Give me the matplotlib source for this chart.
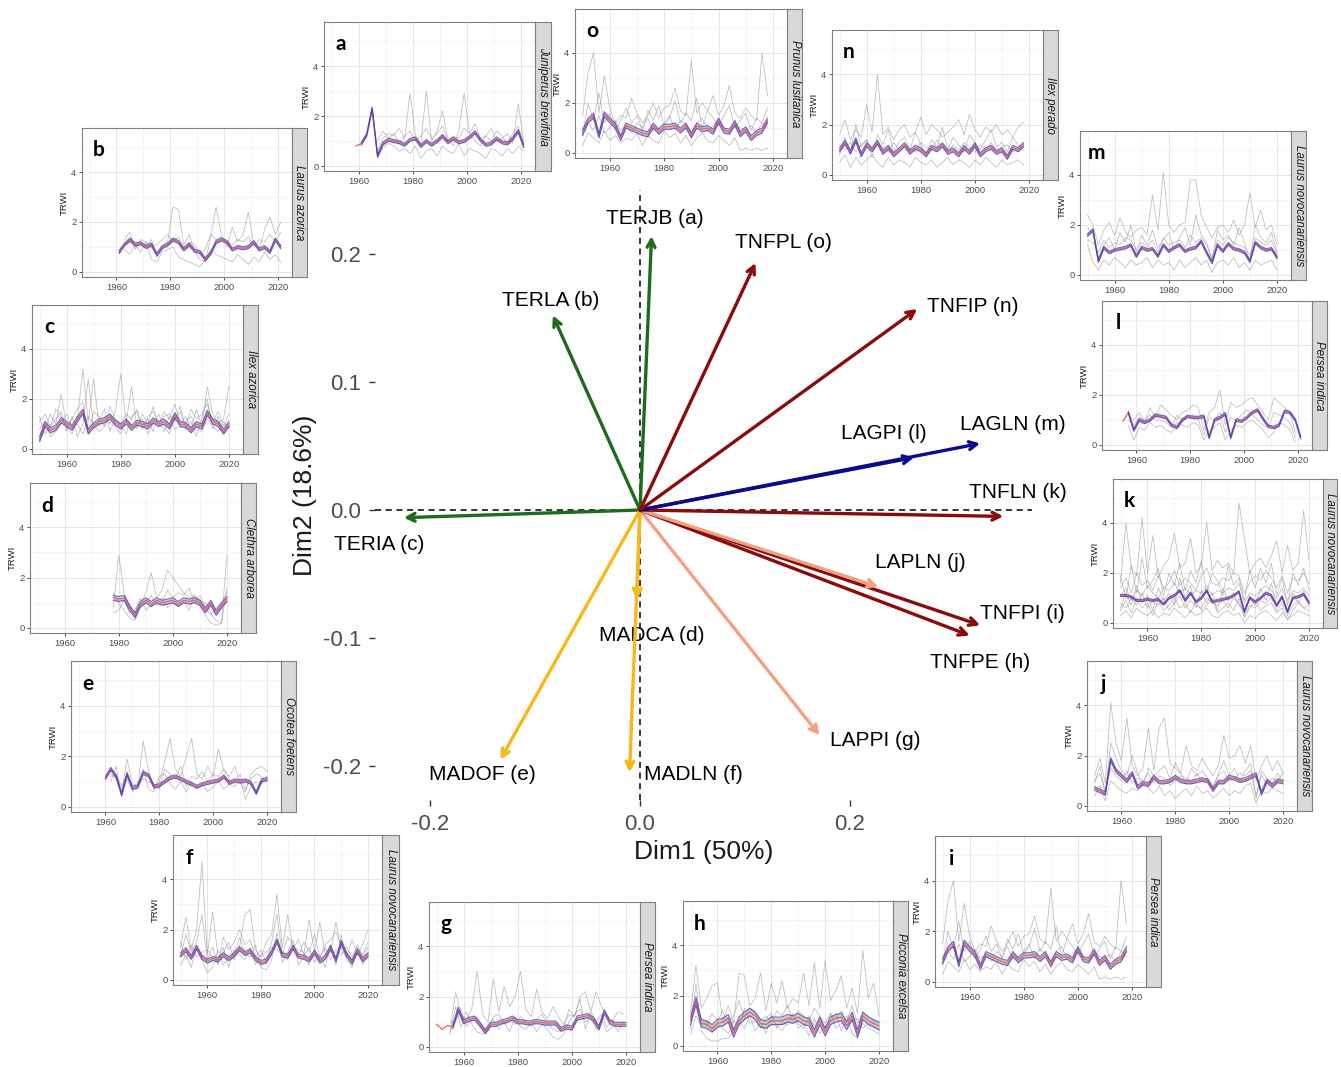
import numpy as np
import matplotlib
matplotlib.use('Agg')
import matplotlib.pyplot as plt

plt.rcParams['font.family'] = ['Liberation Sans', 'DejaVu Sans']

# ---- PCA loadings (central biplot) ----
codes = ['TERJB (a)', 'TERLA (b)', 'TERIA (c)', 'MADCA (d)', 'MADOF (e)',
         'MADLN (f)', 'LAPPI (g)', 'TNFPE (h)', 'TNFPI (i)', 'LAPLN (j)',
         'TNFLN (k)', 'LAGPI (l)', 'LAGLN (m)', 'TNFIP (n)', 'TNFPL (o)']
dim1 = [0.011, -0.083, -0.225, -0.003, -0.133, -0.010, 0.171, 0.314,
        0.324, 0.227, 0.346, 0.261, 0.324, 0.264, 0.110]
dim2 = [0.214, 0.152, -0.006, -0.070, -0.195, -0.205, -0.176, -0.098,
        -0.090, -0.060, -0.005, 0.041, 0.052, 0.157, 0.193]
site = ['TER', 'TER', 'TER', 'MAD', 'MAD', 'MAD', 'LAP', 'TNF', 'TNF',
        'LAP', 'TNF', 'LAG', 'LAG', 'TNF', 'TNF']

# ---- chronologies (values every 2 years from the start year) ----
letters = ['a', 'b', 'c', 'd', 'e', 'f', 'g', 'h', 'i', 'j', 'k', 'l', 'm', 'n', 'o']
species = ['Juniperus brevifolia', 'Laurus azorica', 'Ilex azorica', 'Clethra arborea',
           'Ocotea foetens', 'Laurus novocanariensis', 'Persea indica', 'Picconia excelsa',
           'Persea indica', 'Laurus novocanariensis', 'Laurus novocanariensis',
           'Persea indica', 'Laurus novocanariensis', 'Ilex perado', 'Prunus lusitanica']
mean_start = [1959, 1961, 1950, 1978, 1960, 1950, 1950, 1950, 1950, 1950, 1950, 1955, 1950, 1950, 1950]
band_start = [1961, 1961, 1950, 1978, 1960, 1950, 1955, 1950, 1950, 1950, 1950, 1957, 1950, 1950, 1950]
gray_start = [1967, 1963, 1950, 1978, 1962, 1950, 1955, 1950, 1950, 1950, 1950, 1957, 1950, 1950, 1950]
ci_half = [0.06, 0.06, 0.1, 0.1, 0.06, 0.08, 0.08, 0.15, 0.1, 0.07, 0.04, 0.05, 0.05, 0.08, 0.1]

mean_a = [0.8, 0.9, 1.25, 2.3, 0.4, 0.9, 1.05, 1.0, 0.95, 0.85, 1.05, 1.1, 0.8, 1.0, 0.85, 1.0,
          1.2, 0.95, 1.1, 0.95, 1.0, 1.15, 1.35, 1.05, 0.85, 0.9, 1.1, 0.95, 0.9, 1.1, 1.4, 0.8]
gray_a = [[0.6, 1.1, 1.3, 1.2, 1.5, 1.1, 2.9, 1.2, 0.9, 3.0, 1.0, 1.4, 2.2, 1.1, 0.8, 1.4, 2.9, 1.3,
           1.0, 0.8, 1.2, 1.5, 1.0, 1.1, 1.3, 0.9, 2.5, 1.0],
          [0.4, 0.7, 0.9, 0.8, 0.6, 0.7, 0.5, 0.8, 0.3, 0.6, 0.7, 0.4, 0.8, 0.6, 0.5, 0.9, 0.4, 0.7,
           0.6, 0.5, 0.3, 0.7, 0.6, 0.4, 0.7, 0.5, 0.8, 0.6],
          [1.0, 1.4, 1.1, 1.3, 0.9, 1.2, 1.4, 1.0, 1.2, 1.5, 1.1, 1.3, 1.6, 1.0, 1.2, 1.1, 1.5, 1.3,
           1.7, 1.1, 1.2, 1.0, 1.4, 1.2, 0.9, 1.3, 1.6, 0.9]]

mean_b = [0.8, 1.1, 1.3, 1.1, 1.15, 1.0, 1.1, 0.7, 1.0, 1.1, 1.3, 1.2, 0.9, 1.1, 0.85, 0.8,
          0.5, 0.75, 1.2, 1.3, 1.2, 0.9, 1.0, 0.95, 1.0, 1.2, 0.9, 1.0, 0.8, 1.3, 1.0]
gray_b = [[1.3, 1.6, 0.9, 1.2, 1.0, 1.3, 0.6, 0.9, 1.2, 2.6, 2.5, 1.1, 1.5, 0.8, 0.5, 0.4, 1.4, 2.6,
           1.5, 1.0, 1.8, 1.2, 1.5, 2.4, 1.1, 0.9, 1.7, 2.2, 1.5, 2.0],
          [0.9, 0.7, 1.1, 0.8, 1.2, 0.5, 0.4, 0.8, 0.9, 1.0, 0.6, 0.5, 0.4, 0.3, 0.2, 0.5, 0.9, 0.7,
           0.6, 0.5, 0.4, 0.7, 0.5, 0.3, 0.6, 0.4, 0.8, 0.5, 0.7, 0.4],
          [1.1, 1.2, 1.0, 1.3, 1.2, 1.0, 1.1, 1.3, 1.5, 1.2, 1.4, 1.0, 1.2, 1.1, 0.7, 0.9, 1.5, 1.3,
           1.4, 1.2, 1.1, 1.3, 1.2, 1.4, 1.0, 1.3, 1.2, 1.5, 1.2, 1.6]]

mean_c = [0.4, 1.0, 0.75, 0.85, 1.15, 1.0, 0.85, 1.2, 1.5, 0.7, 0.95, 1.1, 1.15, 1.3, 1.05, 0.9,
          1.1, 0.85, 1.05, 1.0, 0.9, 1.15, 1.0, 1.1, 0.9, 1.35, 1.0, 0.95, 0.75, 1.0, 0.9, 1.45,
          1.1, 1.0, 0.7, 1.0]
gray_c = [[0.3, 0.8, 1.4, 1.0, 2.2, 0.9, 0.6, 1.2, 3.2, 1.1, 2.8, 0.9, 1.3, 1.0, 1.5, 3.0, 1.1, 2.5,
           0.8, 1.4, 1.0, 1.7, 0.9, 1.5, 1.2, 1.8, 1.0, 1.3, 0.8, 1.6, 0.9, 2.5, 1.4, 1.0, 1.2, 2.5],
          [1.3, 0.6, 0.9, 1.2, 1.5, 0.7, 1.3, 0.5, 1.0, 2.8, 0.8, 1.1, 1.6, 0.7, 1.2, 1.0, 0.6, 1.3,
           1.5, 0.8, 1.2, 0.7, 1.4, 0.9, 0.6, 1.2, 1.7, 0.8, 1.1, 0.5, 1.3, 2.0, 0.8, 1.3, 0.6, 0.9],
          [0.8, 1.1, 0.5, 0.7, 1.0, 1.4, 0.9, 1.0, 0.6, 1.3, 1.0, 0.7, 0.9, 1.4, 0.9, 0.6, 1.2, 0.9,
           1.0, 1.2, 0.6, 1.0, 1.1, 0.7, 1.3, 0.8, 0.9, 1.1, 1.3, 0.9, 0.7, 1.2, 0.9, 0.7, 1.1, 0.8],
          [1.1, 1.4, 0.9, 1.6, 1.3, 0.8, 1.2, 1.6, 1.9, 0.6, 1.5, 1.3, 0.9, 1.7, 1.2, 1.0, 1.4, 1.2,
           1.6, 0.8, 1.3, 1.5, 1.0, 1.3, 1.4, 1.1, 1.5, 0.9, 1.6, 1.2, 1.4, 1.8, 1.1, 1.5, 0.9, 1.4]]

mean_d = [1.2, 1.15, 1.2, 0.8, 0.5, 0.95, 1.1, 0.95, 1.1, 1.0, 1.05, 1.1, 0.95, 1.1, 1.05, 1.1,
          1.0, 0.7, 1.0, 0.6, 0.9, 1.15]
gray_d = [[0.8, 2.9, 1.4, 0.9, 0.5, 0.9, 1.4, 2.2, 1.2, 1.5, 2.3, 2.0, 1.7, 1.4, 1.2, 1.3, 1.1, 1.0,
           0.6, 0.3, 0.2, 2.9],
          [1.4, 1.0, 0.7, 0.4, 0.3, 0.8, 1.0, 1.3, 0.9, 1.0, 1.5, 1.2, 1.4, 1.3, 1.6, 1.0, 1.3, 0.8,
           0.5, 0.8, 1.0, 1.4],
          [0.6, 0.7, 1.1, 0.6, 0.7, 1.2, 0.7, 0.9, 1.0, 1.2, 0.8, 1.0, 0.9, 1.1, 0.7, 1.3, 0.9, 0.5,
           0.2, 0.1, 0.2, 1.6]]

mean_e = [1.15, 1.5, 1.2, 0.5, 1.3, 0.75, 0.8, 1.35, 1.25, 0.8, 0.85, 1.0, 1.15, 1.2, 1.1, 1.0,
          0.9, 0.8, 0.9, 0.95, 1.0, 1.05, 1.2, 0.95, 1.05, 1.0, 1.05, 0.95, 0.55, 1.05, 1.1]
gray_e = [[1.3, 1.1, 0.6, 1.9, 0.9, 0.8, 2.6, 1.4, 0.8, 1.0, 1.8, 2.7, 1.5, 1.2, 2.0, 2.7, 1.3, 1.1,
           1.6, 1.2, 2.3, 1.4, 1.2, 1.6, 1.0, 0.6, 1.3, 1.5, 1.6, 1.4],
          [1.0, 1.6, 0.4, 1.1, 0.6, 0.9, 1.5, 0.7, 0.6, 1.2, 1.3, 0.9, 0.7, 1.0, 0.6, 1.0, 0.7, 0.9,
           0.6, 0.8, 1.0, 0.7, 0.9, 0.8, 1.1, 0.3, 0.8, 1.0, 0.9, 1.2],
          [1.2, 1.3, 0.8, 1.3, 0.7, 1.0, 1.1, 1.0, 0.9, 0.7, 1.5, 1.3, 1.1, 1.6, 0.8, 1.2, 1.1, 1.4,
           1.0, 1.3, 1.2, 1.5, 1.1, 0.9, 1.3, 0.7, 1.1, 1.3, 1.2, 1.0]]

mean_f = [1.0, 1.2, 0.9, 1.3, 0.9, 0.75, 0.85, 0.8, 1.0, 0.85, 1.0, 1.25, 1.05, 1.15, 0.85, 0.7,
          0.75, 1.1, 1.55, 1.0, 0.95, 1.3, 0.95, 0.9, 0.8, 1.1, 0.75, 0.9, 1.3, 0.8, 1.5, 1.0,
          0.7, 1.15, 0.8, 1.0]
gray_f = [[1.3, 2.5, 1.2, 2.0, 4.7, 1.0, 2.7, 0.9, 1.1, 1.5, 0.8, 1.3, 2.6, 2.8, 1.2, 0.9, 1.5, 1.8,
           3.4, 1.3, 2.6, 1.2, 1.6, 1.0, 2.4, 1.1, 2.3, 1.0, 1.1, 2.3, 1.2, 0.9, 1.6, 1.0, 1.4, 2.0],
          [0.6, 1.0, 0.5, 1.3, 0.8, 0.3, 0.5, 1.2, 0.6, 0.9, 1.0, 1.7, 1.1, 0.9, 1.4, 0.5, 0.4, 0.8,
           1.9, 0.7, 1.1, 1.6, 0.6, 0.9, 1.3, 0.7, 1.0, 0.5, 1.4, 0.6, 1.8, 0.8, 0.5, 1.2, 0.6, 1.1],
          [1.5, 0.8, 1.4, 0.9, 1.1, 1.2, 0.9, 0.7, 1.3, 0.5, 1.2, 1.0, 0.8, 1.3, 0.6, 1.0, 1.1, 1.3,
           1.2, 1.0, 0.8, 1.3, 1.2, 1.1, 0.6, 1.2, 0.9, 1.3, 0.8, 1.2, 1.0, 1.3, 0.9, 1.4, 0.9, 1.3],
          [0.9, 1.8, 1.1, 1.5, 2.6, 0.8, 1.3, 0.6, 1.7, 1.2, 1.5, 2.0, 1.4, 1.6, 0.9, 1.2, 0.7, 1.5,
           2.6, 1.0, 1.7, 1.4, 0.9, 1.5, 1.1, 1.8, 0.9, 1.4, 1.6, 1.9, 1.3, 1.1, 0.8, 1.3, 1.0, 1.5]]

mean_g = [0.9, 0.7, 0.85, 0.8, 1.5, 1.0, 1.1, 1.15, 0.9, 0.6, 0.9, 0.9, 1.0, 1.05, 1.15, 1.0,
          1.0, 0.95, 1.0, 1.0, 0.95, 0.95, 0.95, 0.7, 0.8, 0.75, 1.15, 1.2, 1.25, 1.1, 0.75, 1.4,
          1.0, 0.9, 0.9, 0.9]
gray_g = [[0.6, 2.2, 1.3, 1.1, 1.5, 3.0, 1.3, 1.0, 2.7, 1.4, 2.4, 1.6, 2.0, 3.0, 1.5, 1.2, 2.3, 1.4,
           1.1, 1.6, 1.2, 0.9, 1.3, 1.2, 2.0, 2.2, 1.4, 2.2, 1.6, 1.2, 1.0, 1.4, 1.3],
          [0.5, 1.6, 0.8, 1.4, 0.9, 0.6, 0.5, 0.9, 1.1, 0.7, 1.0, 0.6, 1.2, 0.8, 0.7, 1.0, 0.6, 0.9,
           0.7, 0.4, 0.3, 0.5, 1.0, 1.3, 1.5, 1.0, 1.2, 0.7, 1.1, 0.6, 0.8, 0.9, 0.7],
          [1.0, 1.0, 1.5, 0.8, 1.1, 1.2, 0.8, 0.6, 1.2, 1.3, 0.9, 1.1, 0.9, 1.2, 1.0, 0.8, 1.1, 1.3,
           0.9, 0.7, 0.6, 0.8, 1.5, 1.2, 1.9, 0.7, 1.4, 1.0, 1.3, 0.8, 1.1, 0.6, 1.0]]

mean_h = [1.0, 1.8, 0.9, 0.85, 0.7, 0.9, 0.95, 1.1, 0.5, 1.0, 1.2, 1.35, 1.2, 0.9, 0.85, 1.0,
          1.0, 1.0, 1.1, 1.05, 1.15, 1.0, 0.95, 0.5, 1.0, 0.55, 1.0, 1.1, 1.15, 0.8, 1.2, 0.5,
          1.2, 1.0, 0.9, 0.8]
gray_h = [[1.3, 3.2, 1.5, 1.9, 2.4, 2.5, 1.0, 1.6, 0.9, 2.9, 2.8, 1.6, 1.9, 2.9, 1.4, 2.5, 1.7, 2.6,
           1.5, 1.9, 1.7, 2.9, 1.6, 3.3, 1.5, 3.4, 1.8, 2.2, 2.8, 1.5, 2.3, 1.3, 3.8, 1.9, 2.5, 1.2],
          [0.7, 2.5, 0.6, 0.3, 0.2, 0.2, 0.3, 0.3, 0.6, 1.0, 0.7, 1.2, 0.6, 0.9, 0.5, 1.2, 0.8, 0.6,
           1.0, 1.3, 0.7, 0.9, 0.4, 1.1, 0.5, 0.8, 1.0, 1.3, 0.6, 1.2, 0.5, 0.3, 0.9, 0.7, 0.6, 0.5],
          [1.0, 1.6, 1.1, 0.8, 1.3, 1.0, 1.4, 0.9, 1.2, 1.8, 1.1, 1.5, 1.3, 1.0, 1.2, 0.9, 1.4, 1.2,
           1.6, 1.0, 1.4, 1.2, 1.0, 1.5, 1.2, 0.9, 1.3, 1.1, 1.4, 1.0, 1.6, 0.9, 1.3, 1.2, 1.0, 0.9],
          [0.5, 1.2, 0.8, 1.0, 0.6, 0.9, 0.7, 0.5, 1.0, 0.8, 1.5, 0.9, 1.0, 0.7, 1.1, 1.3, 0.7, 1.0,
           0.8, 1.2, 0.9, 0.7, 1.2, 0.8, 1.1, 0.6, 1.3, 0.7, 0.9, 0.8, 1.0, 1.1, 0.7, 0.9, 0.8, 0.6]]

mean_i = [0.8, 1.3, 1.5, 0.7, 1.55, 1.3, 1.1, 0.6, 1.1, 1.0, 0.9, 0.8, 0.75, 1.1, 0.85, 1.05,
          1.05, 1.1, 0.9, 1.1, 0.7, 1.1, 0.95, 1.0, 0.85, 1.3, 0.9, 0.85, 1.2, 0.75, 0.95, 0.6,
          0.8, 0.9, 1.3]
gray_i = [[1.5, 3.2, 4.0, 1.6, 3.1, 1.8, 1.2, 1.5, 1.4, 2.2, 1.6, 1.2, 1.5, 2.0, 1.4, 1.8, 1.9, 2.6,
           1.7, 1.5, 3.7, 1.6, 2.0, 1.7, 2.3, 1.5, 1.9, 2.7, 1.6, 1.4, 1.8, 1.5, 1.3, 4.0, 2.3],
          [0.3, 0.8, 0.6, 0.4, 0.9, 0.5, 0.7, 0.4, 0.6, 0.5, 0.8, 0.3, 0.7, 0.5, 0.4, 0.9, 0.6, 0.8,
           0.4, 0.7, 0.3, 0.6, 0.8, 0.5, 0.4, 0.7, 0.5, 0.3, 0.6, 0.1, 0.2, 0.1, 0.2, 0.1, 0.2],
          [1.0, 1.2, 0.9, 1.5, 0.8, 1.0, 1.3, 0.9, 1.1, 0.8, 1.2, 1.0, 1.4, 0.9, 1.0, 1.2, 1.5, 0.9,
           1.3, 1.1, 0.8, 1.2, 1.4, 0.9, 1.1, 1.3, 1.0, 0.8, 1.2, 1.0, 0.9, 1.1, 0.8, 1.2, 1.0],
          [0.7, 2.0, 1.3, 2.4, 1.2, 1.6, 0.9, 1.3, 1.8, 1.2, 1.5, 0.9, 1.7, 1.3, 1.9, 1.1, 1.4, 2.1,
           1.2, 1.6, 1.3, 2.2, 1.0, 1.7, 1.4, 1.1, 1.5, 1.9, 1.0, 1.3, 1.6, 0.9, 1.4, 1.2, 1.8]]

mean_j = [0.7, 0.6, 0.5, 1.85, 1.4, 1.2, 1.0, 1.3, 0.75, 0.9, 0.85, 1.15, 0.95, 0.95, 1.0, 1.15,
          1.0, 0.95, 0.95, 1.0, 1.05, 1.0, 0.65, 0.95, 0.95, 1.15, 1.1, 1.0, 1.05, 1.15, 1.25, 0.5,
          1.0, 0.8, 1.0, 0.95]
gray_j = [[1.2, 1.9, 0.9, 4.1, 2.5, 1.8, 3.5, 1.6, 1.2, 1.5, 3.1, 1.4, 3.1, 3.5, 1.7, 1.5, 1.3, 2.4,
           1.6, 1.4, 1.9, 1.5, 1.2, 1.6, 2.8, 1.9, 2.0, 2.4, 1.7, 2.4, 1.0, 1.6, 2.0, 1.4, 1.8, 1.3],
          [0.4, 0.8, 0.2, 1.0, 0.8, 0.6, 0.5, 0.7, 0.6, 0.9, 0.7, 0.5, 0.8, 0.4, 0.6, 0.3, 0.5, 0.7,
           0.4, 0.8, 0.5, 0.6, 0.3, 0.5, 0.7, 0.4, 0.6, 0.5, 0.8, 0.9, 0.1, 0.6, 0.5, 0.7, 0.6, 0.5],
          [1.0, 1.3, 0.6, 1.5, 1.2, 1.0, 1.4, 0.9, 1.1, 1.0, 1.3, 0.9, 1.2, 1.1, 0.8, 1.0, 1.2, 1.1,
           0.9, 1.3, 1.0, 1.1, 0.8, 1.2, 1.4, 1.0, 1.1, 1.3, 1.2, 1.4, 0.4, 1.2, 0.9, 1.1, 1.0, 1.3],
          [0.9, 1.6, 0.4, 2.5, 1.9, 1.4, 1.2, 2.0, 1.3, 0.8, 1.5, 1.2, 1.4, 1.6, 1.1, 1.7, 1.3, 0.9,
           1.5, 1.2, 1.4, 1.1, 0.7, 1.3, 1.8, 1.2, 1.5, 1.0, 1.4, 1.7, 0.3, 1.4, 1.1, 0.9, 1.3, 1.0]]

mean_k = [1.1, 1.1, 1.05, 0.9, 0.9, 0.95, 0.9, 0.95, 0.75, 1.0, 1.1, 1.3, 0.9, 1.2, 0.85, 1.0,
          1.3, 0.85, 0.9, 0.95, 1.0, 1.1, 1.25, 0.45, 1.0, 0.85, 1.0, 1.2, 1.1, 0.7, 1.05, 0.45,
          1.0, 1.05, 1.15, 0.8]
gray_k = [[1.6, 4.0, 2.2, 1.9, 4.2, 2.0, 3.5, 1.8, 2.3, 2.6, 3.6, 2.2, 2.4, 3.4, 2.0, 2.3, 4.0, 2.1,
           2.5, 2.2, 2.4, 2.0, 4.8, 3.4, 2.0, 2.4, 2.6, 2.2, 2.7, 3.3, 2.0, 3.1, 2.1, 2.4, 4.5, 2.5],
          [0.3, 0.5, 0.2, 0.6, 0.4, 0.3, 0.5, 0.2, 0.4, 0.3, 0.6, 0.4, 0.2, 0.5, 0.3, 0.4, 0.6, 0.3,
           0.2, 0.4, 0.5, 0.3, 0.4, 0.0, 0.3, 0.2, 0.4, 0.5, 0.3, 0.1, 0.4, 0.2, 0.3, 0.5, 0.4, 0.3],
          [1.4, 1.8, 1.2, 2.0, 1.5, 1.7, 1.3, 1.9, 1.4, 1.6, 2.1, 1.5, 1.8, 1.6, 1.3, 1.9, 2.2, 1.6,
           1.5, 1.8, 1.7, 2.0, 1.9, 1.2, 1.6, 1.9, 1.7, 2.1, 1.8, 1.4, 1.9, 1.2, 1.8, 1.7, 2.0, 1.6],
          [0.8, 0.6, 1.0, 0.7, 1.2, 0.6, 0.9, 0.7, 1.0, 0.5, 0.8, 1.1, 0.6, 0.9, 0.7, 0.6, 1.0, 0.8,
           0.7, 0.9, 0.6, 1.0, 0.8, 0.3, 0.7, 0.6, 0.9, 0.8, 1.0, 0.5, 0.8, 0.3, 0.7, 0.9, 0.6, 0.7],
          [1.1, 1.4, 0.9, 1.3, 1.1, 1.5, 1.2, 1.0, 1.4, 1.3, 1.6, 1.2, 1.4, 1.1, 1.3, 1.2, 1.5, 1.1,
           1.3, 1.2, 1.4, 1.3, 1.6, 0.8, 1.2, 1.1, 1.3, 1.5, 1.3, 1.0, 1.4, 0.9, 1.3, 1.2, 1.4, 1.1],
          [0.6, 1.2, 0.7, 1.5, 0.8, 1.1, 0.5, 1.4, 0.9, 1.2, 0.7, 1.8, 1.0, 1.5, 0.6, 1.3, 0.8, 1.2,
           0.5, 1.4, 0.9, 1.2, 0.7, 0.5, 1.1, 0.7, 1.4, 0.9, 1.6, 0.7, 1.1, 0.5, 1.2, 0.8, 1.3, 0.9],
          [1.9, 1.0, 2.3, 1.2, 2.6, 1.4, 1.7, 2.2, 1.1, 2.0, 1.5, 2.4, 1.3, 2.1, 1.6, 2.5, 1.2, 2.0,
           1.7, 1.1, 2.3, 1.5, 1.8, 0.9, 2.1, 1.4, 2.2, 1.6, 2.4, 1.1, 1.8, 0.7, 2.0, 1.5, 2.2, 1.3],
          [0.5, 0.9, 0.4, 1.0, 0.6, 0.8, 0.3, 0.9, 0.5, 0.7, 1.0, 0.6, 0.8, 0.4, 0.9, 0.5, 0.7, 1.0,
           0.4, 0.6, 0.8, 0.5, 1.0, 0.2, 0.6, 0.9, 0.5, 0.7, 0.8, 0.4, 0.6, 0.1, 0.5, 0.8, 0.6, 0.5]]

mean_l = [0.95, 1.3, 0.6, 1.0, 0.9, 1.0, 1.2, 1.15, 1.1, 0.8, 0.7, 1.0, 1.15, 1.1, 1.1, 1.15,
          0.3, 1.0, 1.1, 1.25, 0.3, 1.0, 0.95, 1.1, 1.3, 1.4, 1.05, 0.75, 0.7, 0.8, 1.35, 1.3,
          1.0, 0.3]
gray_l = [[1.2, 1.0, 1.3, 0.9, 1.5, 1.1, 1.6, 1.4, 1.2, 1.0, 1.3, 1.4, 1.6, 1.5, 0.6, 1.3, 1.5, 2.2,
           0.8, 1.7, 1.5, 1.6, 1.8, 1.9, 1.6, 1.3, 1.0, 1.9, 1.7, 1.5, 1.3, 0.5],
          [0.8, 0.2, 0.7, 0.6, 0.9, 0.7, 0.8, 0.6, 0.5, 0.9, 0.8, 0.7, 0.9, 0.8, 0.2, 0.6, 0.7, 0.9,
           0.2, 0.6, 0.8, 0.7, 0.9, 1.0, 0.8, 0.6, 0.3, 0.5, 0.9, 0.8, 0.6, 0.1],
          [1.0, 0.8, 1.1, 1.0, 1.2, 1.0, 1.0, 0.9, 0.7, 1.2, 1.0, 1.1, 1.2, 1.0, 0.4, 1.1, 1.0, 1.3,
           0.5, 1.1, 1.0, 1.2, 1.4, 1.2, 1.0, 0.8, 0.7, 1.3, 1.2, 1.1, 0.9, 0.3]]

mean_m = [1.6, 1.8, 0.55, 1.1, 0.9, 1.0, 1.05, 1.1, 1.2, 0.75, 1.1, 1.0, 1.05, 0.75, 1.2, 0.95,
          1.1, 1.2, 0.95, 1.05, 1.1, 1.35, 0.9, 0.5, 1.2, 0.95, 1.25, 1.05, 1.0, 0.9, 0.55, 1.3,
          1.1, 1.0, 1.05, 0.7]
gray_m = [[2.4, 2.0, 1.2, 1.8, 2.1, 1.6, 2.3, 1.7, 1.5, 1.8, 1.9, 1.6, 3.2, 1.8, 4.1, 2.0, 1.7, 2.0,
           2.1, 3.8, 3.8, 2.4, 1.9, 1.5, 1.9, 2.0, 1.7, 2.2, 1.6, 2.0, 3.3, 1.9, 2.6, 1.8, 2.0, 1.2],
          [1.2, 0.5, 0.2, 0.6, 0.4, 0.7, 0.5, 0.3, 0.6, 0.4, 0.5, 0.7, 0.3, 0.6, 0.4, 0.5, 0.2, 0.6,
           0.3, 0.5, 0.7, 0.4, 0.6, 0.1, 0.5, 0.6, 0.4, 0.7, 0.3, 0.5, 0.2, 0.6, 0.4, 0.5, 0.6, 0.2],
          [1.4, 1.3, 0.9, 1.4, 1.1, 1.3, 1.2, 1.5, 1.4, 1.0, 1.3, 1.1, 1.4, 0.9, 1.5, 1.2, 1.3, 1.4,
           1.1, 1.6, 1.3, 1.5, 1.2, 0.7, 1.4, 1.2, 1.5, 1.3, 1.2, 1.1, 0.8, 1.5, 1.3, 1.2, 1.4, 0.8],
          [1.9, 1.6, 0.7, 1.2, 1.5, 1.0, 1.7, 1.3, 2.0, 0.9, 1.6, 1.2, 1.8, 1.1, 1.4, 1.7, 1.0, 1.5,
           1.9, 1.2, 2.4, 1.6, 1.3, 0.6, 1.8, 1.4, 1.6, 1.2, 1.9, 1.3, 0.5, 2.0, 1.5, 1.3, 1.7, 0.9]]

mean_n = [1.0, 1.3, 0.9, 1.4, 0.8, 1.2, 1.0, 1.3, 0.9, 1.1, 0.8, 1.0, 1.2, 0.9, 1.1, 1.0,
          0.8, 1.1, 1.0, 1.2, 0.9, 1.0, 0.8, 1.1, 0.9, 1.2, 0.8, 1.0, 1.1, 0.9, 1.0, 0.7,
          1.1, 1.0, 1.2]
gray_n = [[1.6, 2.2, 1.4, 1.8, 1.5, 2.8, 1.7, 4.0, 1.6, 1.9, 1.4, 1.8, 2.0, 1.5, 1.7, 2.3, 1.6, 2.0,
           1.8, 1.5, 1.7, 1.9, 2.2, 1.6, 2.4, 1.8, 1.5, 1.9, 1.7, 2.0, 1.6, 1.8, 1.5, 1.9, 2.1],
          [0.5, 0.8, 0.3, 0.7, 0.4, 0.6, 0.8, 0.5, 0.3, 0.7, 0.4, 0.6, 0.5, 0.3, 0.7, 0.5, 0.4, 0.6,
           0.3, 0.5, 0.7, 0.4, 0.6, 0.5, 0.3, 0.6, 0.4, 0.7, 0.5, 0.3, 0.6, 0.4, 0.5, 0.6, 0.4],
          [1.2, 1.0, 1.3, 0.9, 1.2, 1.4, 1.0, 1.2, 1.1, 0.9, 1.3, 1.0, 1.2, 1.1, 0.9, 1.3, 1.1, 1.0,
           1.4, 1.1, 0.9, 1.2, 1.0, 1.3, 1.1, 0.9, 1.2, 1.0, 1.3, 0.9, 1.1, 1.2, 0.9, 1.1, 1.3],
          [0.8, 1.5, 0.9, 2.0, 1.1, 1.4, 0.7, 1.6, 1.2, 1.8, 0.9, 1.3, 1.5, 1.0, 1.7, 1.2, 0.8, 1.4,
           1.1, 1.9, 1.0, 1.5, 1.2, 0.9, 1.6, 1.3, 1.0, 1.4, 1.8, 1.1, 1.3, 0.9, 1.5, 1.2, 1.0]]

# panel o shows the same chronology as panel i in the figure
mean_o = mean_i
gray_o = gray_i

means = [mean_a, mean_b, mean_c, mean_d, mean_e, mean_f, mean_g, mean_h,
         mean_i, mean_j, mean_k, mean_l, mean_m, mean_n, mean_o]
grays = [gray_a, gray_b, gray_c, gray_d, gray_e, gray_f, gray_g, gray_h,
         gray_i, gray_j, gray_k, gray_l, gray_m, gray_n, gray_o]

# ---- layout (pixels: left, strip start, right, top, bottom) ----
W, H = 1341, 1067
boxes = {'a': (324, 535, 551, 22, 171), 'b': (82, 292, 307, 128, 277),
         'c': (32, 243, 258, 305, 454), 'd': (30, 241, 256, 483, 633),
         'e': (71, 281, 296, 661, 812), 'f': (173, 382, 399, 835, 985),
         'g': (429, 640, 655, 902, 1052), 'h': (683, 893, 908, 901, 1051),
         'i': (935, 1146, 1161, 836, 987), 'j': (1087, 1297, 1312, 661, 811),
         'k': (1113, 1323, 1337, 479, 628), 'l': (1102, 1312, 1327, 301, 450),
         'm': (1080, 1291, 1306, 131, 280), 'n': (832, 1043, 1058, 30, 180),
         'o': (575, 787, 802, 9, 158)}
label_xy = [(0.0145, 0.228), (-0.085, 0.164), (-0.248, -0.027), (0.011, -0.098),
            (-0.150, -0.207), (0.051, -0.207), (0.224, -0.180), (0.324, -0.119),
            (0.364, -0.081), (0.267, -0.041), (0.360, 0.014), (0.232, 0.060),
            (0.355, 0.067), (0.317, 0.159), (0.137, 0.209)]
site_colors = {'TER': '#1e6b1e', 'MAD': '#f7b818', 'LAP': '#f4a182',
               'TNF': '#8b0a0a', 'LAG': '#0a0a8c'}
narrow = ['DejaVu Sans Condensed', 'Liberation Sans Narrow', 'Liberation Sans', 'DejaVu Sans']

fig = plt.figure(figsize=(W / 100, H / 100), dpi=100)

# ---- central biplot ----
ax = fig.add_axes([375 / W, 1 - 800 / H, (1032 - 375) / W, (800 - 190) / H])
ax.set_facecolor('none')
ax.set_xlim((375 - 640) / 1050, (1032 - 640) / 1050)
ax.set_ylim((510 - 800) / 1280, (510 - 190) / 1280)
for sp in ax.spines.values():
    sp.set_visible(False)
ax.axhline(0, color='black', ls='--', lw=1.1, dashes=(4, 3))
ax.axvline(0, color='black', ls='--', lw=1.1, dashes=(4, 3))
for k in range(len(codes)):
    c = site_colors[site[k]]
    ax.annotate('', xy=(dim1[k], dim2[k]), xytext=(0, 0),
                arrowprops=dict(arrowstyle='->,head_length=0.55,head_width=0.28',
                                color=c, lw=2.4, shrinkA=0, shrinkB=0))
    ax.text(label_xy[k][0], label_xy[k][1], codes[k], fontsize=15, ha='center',
            va='center', family=narrow, color='black')
ax.set_xticks([-0.2, 0.0, 0.2])
ax.set_xticklabels(['-0.2', '0.0', '0.2'])
ax.set_yticks([-0.2, -0.1, 0.0, 0.1, 0.2])
ax.set_yticklabels(['-0.2', '-0.1', '0.0', '0.1', '0.2'])
ax.tick_params(colors='#333333', labelcolor='#4d4d4d', length=4, width=1, pad=6)
for lab in ax.get_xticklabels() + ax.get_yticklabels():
    lab.set_fontsize(16)
    lab.set_family(narrow)
ax.set_xlabel('Dim1 (50%)', fontsize=19, color='#1a1a1a', labelpad=4)
ax.set_ylabel('Dim2 (18.6%)', fontsize=19, color='#1a1a1a', labelpad=4)

# ---- chronology panels ----
for n, p in enumerate(letters):
    l, s, r, t, b = boxes[p]
    pa = fig.add_axes([l / W, 1 - b / H, (s - l) / W, (b - t) / H])
    st = fig.add_axes([s / W, 1 - b / H, (r - s) / W, (b - t) / H])

    for g in grays[n]:
        yrs = gray_start[n] + 2 * np.arange(len(g))
        pa.plot(yrs, g, color='#8f8f8f', lw=0.55, alpha=0.6)

    m = np.array(means[n])
    yrs = mean_start[n] + 2 * np.arange(len(m))
    ok = yrs >= band_start[n]
    lo = m - ci_half[n]
    hi = m + ci_half[n]
    pa.fill_between(yrs[ok], lo[ok], hi[ok], color='#9a9a9a', alpha=0.5, lw=0)
    pa.plot(yrs, m, color='#f0605a', lw=0.9)
    pa.plot(yrs[ok], lo[ok], color='#3a3ac8', lw=0.8, alpha=0.75)
    pa.plot(yrs[ok], hi[ok], color='#3a3ac8', lw=0.8, alpha=0.75)

    pa.set_xlim(1947.2, 2025.2)
    pa.set_ylim(-0.2, 5.76)
    pa.set_xticks([1960, 1980, 2000, 2020])
    pa.set_xticks([1950, 1970, 1990, 2010], minor=True)
    pa.set_yticks([0, 2, 4])
    pa.set_yticks([1, 3, 5], minor=True)
    pa.grid(True, which='major', color='#e6e6e6', lw=0.7)
    pa.grid(True, which='minor', color='#f2f2f2', lw=0.5)
    pa.set_axisbelow(True)
    pa.tick_params(which='major', labelsize=6.8, labelcolor='#4d4d4d', color='#333333',
                   length=2.5, width=0.6, pad=1.5)
    pa.tick_params(which='minor', length=0)
    pa.set_ylabel('TRWI', fontsize=6.8, color='#1a1a1a', labelpad=2)
    for sp in pa.spines.values():
        sp.set_color('#808080')
        sp.set_linewidth(0.8)
    pa.text(0.08, 0.85, p, transform=pa.transAxes, fontsize=15, fontweight='bold',
            family=['Lato', 'DejaVu Sans'], ha='center', va='center')

    st.set_facecolor('#d9d9d9')
    st.set_xticks([])
    st.set_yticks([])
    for sp in st.spines.values():
        sp.set_color('#808080')
        sp.set_linewidth(0.8)
    st.text(0.5, 0.5, species[n], rotation=-90, style='italic', fontsize=8.3,
            color='#1a1a1a', ha='center', va='center', transform=st.transAxes)

fig.savefig('out.png', dpi=100)
